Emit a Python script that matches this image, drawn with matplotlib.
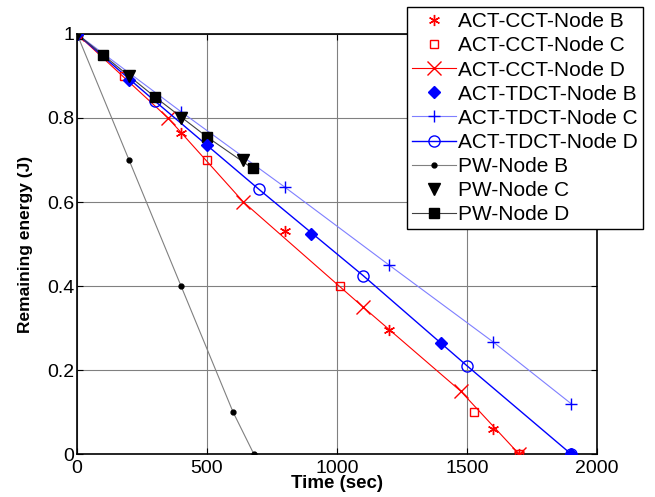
import matplotlib
matplotlib.use("Agg")
import matplotlib.pyplot as plt

plt.rcParams["font.family"] = ["Liberation Sans", "DejaVu Sans"]

# ACT-CCT
cct_b_t = [0, 400, 800, 1200, 1600, 1700]
cct_b_e = [1, 0.765, 0.53, 0.295, 0.06, 0]
cct_c_t = [0, 180, 500, 1010, 1525, 1700]
cct_c_e = [1, 0.9, 0.7, 0.4, 0.1, 0]
cct_d_t = [0, 350, 640, 1100, 1475, 1700]
cct_d_e = [1, 0.8, 0.6, 0.35, 0.15, 0]

# ACT-TDCT
tdct_b_t = [0, 200, 500, 900, 1400, 1900]
tdct_b_e = [1, 0.89, 0.735, 0.525, 0.265, 0]
tdct_c_t = [0, 400, 800, 1200, 1600, 1900]
tdct_c_e = [1, 0.815, 0.635, 0.45, 0.267, 0.12]
tdct_d_t = [0, 300, 700, 1100, 1500, 1900]
tdct_d_e = [1, 0.84, 0.63, 0.425, 0.21, 0]

# PW
pw_b_t = [0, 200, 400, 600, 680]
pw_b_e = [1, 0.7, 0.4, 0.1, 0]
pw_c_t = [0, 200, 400, 640]
pw_c_e = [1, 0.9, 0.8, 0.7]
pw_d_t = [0, 100, 300, 500, 675]
pw_d_e = [1, 0.95, 0.85, 0.755, 0.68]

RED = "#ff0000"
BLUE = "#0000ff"
LBLUE = "#7f7fff"

fig = plt.figure(figsize=(6.55, 4.97), dpi=100)
ax = fig.add_axes([0.1176, 0.0865, 0.7939, 0.8451])

ax.plot(cct_b_t, cct_b_e, ls="none", marker=(6, 2, 0), ms=8, mew=1,
        c=RED, label="ACT-CCT-Node B", zorder=5)
ax.plot(cct_c_t, cct_c_e, ls="none", marker="s", ms=6, mfc="none",
        mec=RED, label="ACT-CCT-Node C", zorder=5)
ax.plot(cct_d_t, cct_d_e, ls="-", lw=0.8, marker="x", ms=10, mew=1,
        c=RED, label="ACT-CCT-Node D", zorder=4)

ax.plot(tdct_b_t, tdct_b_e, ls="none", marker="D", ms=6,
        c=BLUE, label="ACT-TDCT-Node B", zorder=5)
ax.plot(tdct_c_t, tdct_c_e, ls="-", lw=0.8, marker="+", ms=9, mew=1,
        c=LBLUE, mec=BLUE, label="ACT-TDCT-Node C", zorder=4)
ax.plot(tdct_d_t, tdct_d_e, ls="-", lw=1, marker="o", ms=8, mfc="none",
        c=BLUE, label="ACT-TDCT-Node D", zorder=4)

ax.plot(pw_b_t, pw_b_e, ls="-", lw=0.8, marker=".", ms=7,
        c="#808080", mfc="black", mec="black", label="PW-Node B", zorder=4)
ax.plot(pw_c_t, pw_c_e, ls="none", marker="v", ms=8,
        c="black", label="PW-Node C", zorder=5)
ax.plot(pw_d_t, pw_d_e, ls="-", lw=0.8, marker="s", ms=7,
        c="#404040", mfc="black", mec="black", label="PW-Node D", zorder=4)

ax.set_xlim(0, 2000)
ax.set_ylim(0, 1)
ax.set_xticks([0, 500, 1000, 1500, 2000])
ax.set_yticks([0, 0.2, 0.4, 0.6, 0.8, 1])
ax.set_yticklabels(["0", "0.2", "0.4", "0.6", "0.8", "1"])
ax.tick_params(direction="in", top=True, right=True, labelsize=14, length=4)
ax.tick_params(axis="x", pad=4)
ax.tick_params(axis="y", pad=2)
ax.grid(True, color="#808080", lw=0.8)
for s in ax.spines.values():
    s.set_linewidth(1.2)

ax.set_xlabel("Time (sec)", fontsize=13.5, fontweight="bold", labelpad=-1)
ax.set_ylabel("Remaining energy (J)", fontsize=12.5, fontweight="bold",
              labelpad=10)

leg = ax.legend(loc="upper right", bbox_to_anchor=(1.088, 1.064),
                borderaxespad=0, fontsize=15, fancybox=False, framealpha=1,
                edgecolor="black", borderpad=0.25, labelspacing=0.245,
                handlelength=2.1, handletextpad=0.1)
leg.get_frame().set_linewidth(1)

fig.savefig("out.png", dpi=100)
